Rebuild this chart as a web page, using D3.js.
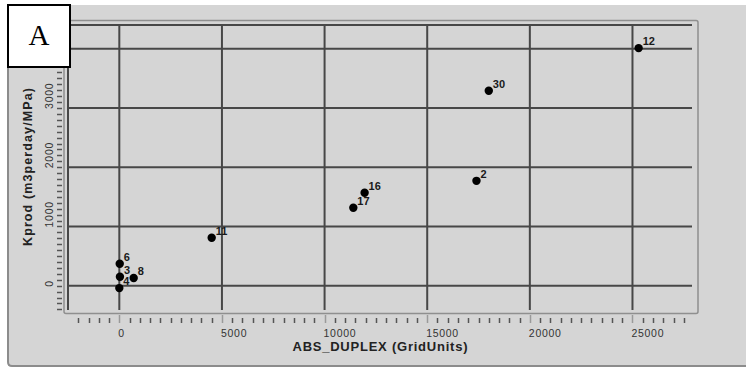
<!DOCTYPE html>
<html><head><meta charset="utf-8">
<script src="https://cdn.jsdelivr.net/npm/d3@7"></script>
<style>html,body{margin:0;padding:0;background:#fff;}svg{display:block;}</style>
</head><body>
<script>
const wellLabels = ["12", "30", "2", "16", "17", "11", "6", "3", "8", "4"];
const absDuplex  = [25300, 18000, 17400, 11950, 11400, 4500, 20, 30, 700, 0];
const kprod      = [4010, 3290, 1770, 1570, 1315, 810, 370, 150, 130, -40];
const xTickValues = [0, 5000, 10000, 15000, 20000, 25000];
const yTickValues = [0, 1000, 2000, 3000, 4000];
const xTitle = "ABS_DUPLEX (GridUnits)";
const yTitle = "Kprod (m3perday/MPa)";
const panelLetter = "A";

const W = 746, H = 370;
const svg = d3.select("body").append("svg").attr("width", W).attr("height", H);
const bg = "#d5d5d5", grid = "#474747";

// panel
svg.append("rect").attr("x", 0).attr("y", 0).attr("width", W).attr("height", H).attr("fill", "#fff");
svg.append("rect").attr("x", 8).attr("y", 5).attr("width", W).attr("height", 361).attr("fill", bg);
svg.append("path").attr("d", "M8,5 L8,362 Q8,366 12,366 L746,366").attr("fill", "none").attr("stroke", "#8c8c8c").attr("stroke-width", 2);

const x = d3.scaleLinear().domain([-2500, 27900]).range([68, 692]);
const y = d3.scaleLinear().domain([-410, 4400]).range([310, 25]);

// plot frame
svg.append("rect").attr("x", 64).attr("y", 20.5).attr("width", 634).attr("height", 293).attr("rx", 2)
  .attr("fill", bg).attr("stroke", "#8f8f8f").attr("stroke-width", 1.5);
svg.append("rect").attr("x", 68).attr("y", 25).attr("width", 624).attr("height", 285).attr("fill", bg);

// gridlines
svg.append("g").selectAll("line").data(xTickValues).join("line")
  .attr("x1", d => x(d)).attr("x2", d => x(d)).attr("y1", 25).attr("y2", 310)
  .attr("stroke", grid).attr("stroke-width", 2);
svg.append("g").selectAll("line").data(yTickValues).join("line")
  .attr("x1", 68).attr("x2", 692).attr("y1", d => y(d)).attr("y2", d => y(d))
  .attr("stroke", grid).attr("stroke-width", 2);
svg.append("line").attr("x1", 68).attr("x2", 692).attr("y1", 25).attr("y2", 25).attr("stroke", grid).attr("stroke-width", 2);
svg.append("line").attr("x1", 68).attr("x2", 68).attr("y1", 25).attr("y2", 310).attr("stroke", grid).attr("stroke-width", 2);

// x axis minor ticks
const xMinor = d3.range(-2000, 27600, 500);
svg.append("g").selectAll("line").data(xMinor).join("line")
  .attr("x1", d => Math.round(x(d)) + 0.5).attr("x2", d => Math.round(x(d)) + 0.5)
  .attr("y1", d => xTickValues.includes(d) ? 315 : 318).attr("y2", 323)
  .attr("stroke", d => xTickValues.includes(d) ? "#9a9a9a" : "#555").attr("stroke-width", 1.5);
svg.append("g").selectAll("text").data(xTickValues).join("text")
  .attr("x", d => x(d) - 1).attr("y", 337)
  .attr("font-family", "Liberation Sans, Arial, sans-serif").attr("font-size", 10.5)
  .attr("fill", "#333").attr("textLength", d => String(d).length * 6.4)
  .text(d => d);
svg.append("text").attr("x", 380).attr("y", 351).attr("text-anchor", "middle")
  .attr("font-family", "Liberation Sans, Arial, sans-serif").attr("font-size", 13).attr("font-weight", "bold")
  .attr("fill", "#222").attr("textLength", 175).text(xTitle);

// y axis minor ticks
const yMinor = d3.range(-400, 4401, 100);
svg.append("g").selectAll("line").data(yMinor).join("line")
  .attr("x1", 57).attr("x2", 62)
  .attr("y1", d => Math.round(y(d)) + 0.5).attr("y2", d => Math.round(y(d)) + 0.5)
  .attr("stroke", "#555").attr("stroke-width", 1.5);
svg.append("g").selectAll("text").data(yTickValues.slice(0, 4)).join("text")
  .attr("transform", d => `translate(53,${y(d) + 1}) rotate(-90)`)
  .attr("font-family", "Liberation Sans, Arial, sans-serif").attr("font-size", 10.5)
  .attr("fill", "#333").attr("textLength", d => String(d).length * 6.4)
  .text(d => d);
svg.append("text").attr("transform", "translate(32,167) rotate(-90)").attr("text-anchor", "middle")
  .attr("font-family", "Liberation Sans, Arial, sans-serif").attr("font-size", 12.5).attr("font-weight", "bold")
  .attr("fill", "#222").attr("textLength", 158).text(yTitle);

// points
const pts = wellLabels.map((l, i) => ({label: l, x: absDuplex[i], y: kprod[i]}));
svg.append("g").selectAll("circle").data(pts).join("circle")
  .attr("cx", d => x(d.x)).attr("cy", d => y(d.y)).attr("r", 4.2).attr("fill", "#000");
svg.append("g").selectAll("text").data(pts).join("text")
  .attr("x", d => x(d.x) + 4).attr("y", d => y(d.y) - 3)
  .attr("font-family", "Liberation Sans, Arial, sans-serif").attr("font-size", 11).attr("font-weight", "bold")
  .attr("fill", "#1a1a1a").text(d => d.label);

// panel letter box
svg.append("rect").attr("x", 8).attr("y", 5).attr("width", 62).attr("height", 62)
  .attr("fill", "#fff").attr("stroke", "#000").attr("stroke-width", 2);
svg.append("text").attr("x", 39).attr("y", 45).attr("text-anchor", "middle")
  .attr("font-family", "Liberation Serif, Times New Roman, serif").attr("font-size", 29)
  .attr("fill", "#000").text(panelLetter);
</script>
</body></html>
